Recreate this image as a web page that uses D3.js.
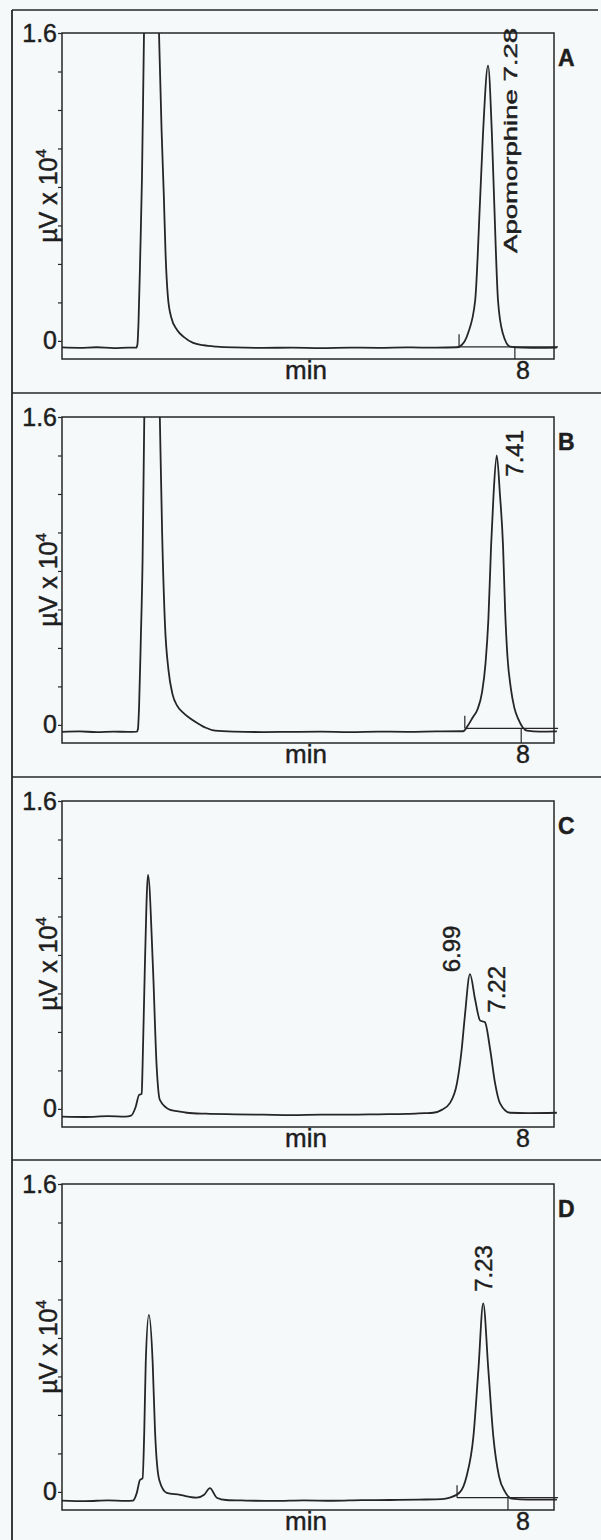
<!DOCTYPE html>
<html>
<head>
<meta charset="UTF-8">
<style>
  body { margin: 0; background: #f6f9fa; }
  svg { display: block; }
  text { font-family: "Liberation Sans", Arial, sans-serif; fill: #1e1e1e; stroke: #1e1e1e; stroke-width: 0.45px; }
</style>
</head>
<body>
<svg></svg>
<script src="https://d3js.org/d3.v7.min.js"></script>
<script>

let width = 601, height = 1540;

// ---- data (time in min, signal in µV x 10^4) ----
const panelLetters = ["A", "B", "C", "D"];

const traceA = [[0, -0.034], [0.3, -0.036], [0.6, -0.033], [0.9, -0.037], [1.15, -0.035], [1.29, -0.035],
  [1.31, -0.02], [1.33, 0.1], [1.36, 0.45], [1.39, 0.85], [1.425, 1.6], [1.47, 2.4], [1.55, 2.7], [1.62, 2.4],
  [1.686, 1.6], [1.73, 1.1], [1.77, 0.75], [1.8, 0.45], [1.84, 0.23], [1.9, 0.12], [2.0, 0.057], [2.12, 0.02],
  [2.28, -0.01], [2.45, -0.022], [2.69, -0.03], [3.0, -0.034], [3.5, -0.036], [4.0, -0.035], [4.5, -0.037],
  [5.0, -0.035], [5.5, -0.036], [6.0, -0.034], [6.5, -0.035], [6.86, -0.033], [6.95, -0.02], [7.056, 0.04],
  [7.18, 0.21], [7.265, 0.73], [7.317, 1.08], [7.404, 1.43], [7.47, 1.08], [7.51, 0.73], [7.577, 0.21],
  [7.66, 0.04], [7.79, -0.03], [8.0, -0.035], [8.3, -0.036], [8.6, -0.035]];

const traceB = [[0, -0.036], [0.3, -0.034], [0.6, -0.037], [0.9, -0.035], [1.15, -0.036], [1.3, -0.035],
  [1.32, -0.02], [1.34, 0.1], [1.37, 0.45], [1.4, 0.85], [1.43, 1.6], [1.48, 2.4], [1.56, 2.7], [1.64, 2.4],
  [1.7, 1.6], [1.74, 1.0], [1.79, 0.52], [1.85, 0.286], [1.92, 0.16], [2.0, 0.1], [2.1, 0.065], [2.2, 0.04],
  [2.35, 0.01], [2.5, -0.015], [2.66, -0.03], [3.0, -0.035], [3.5, -0.037], [4.0, -0.036], [4.5, -0.035],
  [5.0, -0.037], [5.5, -0.035], [6.0, -0.036], [6.5, -0.034], [6.97, -0.033], [7.06, 0.0], [7.14, 0.04],
  [7.22, 0.08], [7.3, 0.17], [7.36, 0.32], [7.41, 0.55], [7.456, 0.925], [7.5, 1.2], [7.555, 1.4], [7.61, 1.2],
  [7.665, 0.925], [7.7, 0.6], [7.74, 0.36], [7.8, 0.19], [7.86, 0.09], [7.93, 0.03], [8.08, -0.03],
  [8.3, -0.035], [8.6, -0.034]];

const traceC = [[0, -0.04], [0.4, -0.042], [0.8, -0.038], [1.1, -0.04], [1.2, -0.035], [1.28, 0.01],
  [1.34, 0.073], [1.385, 0.078], [1.4, 0.22], [1.44, 0.74], [1.495, 1.216], [1.58, 0.74], [1.645, 0.22],
  [1.7, 0.047], [1.88, -0.005], [2.0, -0.012], [2.17, -0.02], [2.5, -0.025], [3.0, -0.028], [3.5, -0.03],
  [4.0, -0.032], [4.5, -0.03], [5.0, -0.03], [5.5, -0.028], [6.0, -0.026], [6.3, -0.022], [6.45, -0.02],
  [6.6, -0.005], [6.74, 0.03], [6.865, 0.135], [6.946, 0.31], [7.0, 0.48], [7.09, 0.7], [7.18, 0.567],
  [7.265, 0.46], [7.35, 0.45], [7.44, 0.31], [7.525, 0.135], [7.61, 0.03], [7.785, -0.02], [8.1, -0.022],
  [8.6, -0.02]];

const traceD = [[0, -0.045], [0.4, -0.048], [0.8, -0.044], [1.1, -0.047], [1.234, -0.045], [1.3, -0.005],
  [1.355, 0.062], [1.4, 0.07], [1.43, 0.32], [1.455, 0.67], [1.51, 0.92], [1.576, 0.67], [1.616, 0.32],
  [1.69, 0.062], [1.82, -0.005], [2.05, -0.015], [2.2, -0.025], [2.34, -0.03], [2.47, -0.015], [2.57, 0.02],
  [2.69, -0.03], [2.85, -0.042], [3.2, -0.045], [3.7, -0.047], [4.2, -0.044], [4.7, -0.046], [5.2, -0.043],
  [5.7, -0.042], [6.2, -0.04], [6.6, -0.038], [6.74, -0.03], [6.92, 0.0], [7.03, 0.08], [7.15, 0.29],
  [7.235, 0.63], [7.32, 0.98], [7.41, 0.63], [7.495, 0.29], [7.595, 0.08], [7.7, 0.0], [7.815, -0.035],
  [8.1, -0.04], [8.6, -0.04]];

const traces = [traceA, traceB, traceC, traceD];

// peak annotations: text, time of text baseline, signal where text starts
const labelsA = [["Apomorphine 7.28", 7.9, 0.457]];
const labelsB = [["7.41", 8.01, 1.29]];
const labelsC = [["6.99", 6.92, 0.71], ["7.22", 7.7, 0.5]];
const labelsD = [["7.23", 7.47, 1.04]];
const peakLabels = [labelsA, labelsB, labelsC, labelsD];

// integration marks: start, end, baseline level (null = none)
const integrations = [[6.9, 7.87, -0.031], [7.0, 7.98, -0.018], null, [6.865, 7.75, -0.03]];

const yTicks = [0, 0.2, 0.4, 0.6, 0.8, 1.0, 1.2, 1.4, 1.6];
const yTickLabels = ["0", "", "", "", "", "", "", "", "1.6"];
const xTicks = [8];
const xTickLabels = ["8"];

// ---- layout ----
let svg = d3.select("svg")
    .attr("width", width)
    .attr("height", height)
    .attr("viewBox", "0 0 " + width + " " + height);

svg.append("rect").attr("width", width).attr("height", height).attr("fill", "#f6f9fa");

const panelTops = [33, 417, 801, 1184];
const boxLeft = 62, boxRight = 554, boxH = 326;
const ink = "#262626";

let x = d3.scaleLinear().domain([0, 8.55]).range([boxLeft, boxRight]);

// outer frame
svg.append("line").attr("x1", 12).attr("x2", 12).attr("y1", 10).attr("y2", height)
    .attr("stroke", ink).attr("stroke-width", 1.8);
svg.append("line").attr("x1", 12).attr("x2", 598).attr("y1", 10).attr("y2", 10)
    .attr("stroke", ink).attr("stroke-width", 1.5);

panelTops.forEach((top, i) => {
    let y = d3.scaleLinear().domain([-0.094, 1.6]).range([top + boxH, top]);
    let g = svg.append("g");

    // separator above the panel
    if (i > 0) {
        g.append("line").attr("x1", 12).attr("x2", width).attr("y1", top - 24).attr("y2", top - 24)
            .attr("stroke", ink).attr("stroke-width", 1.5);
    }

    g.append("rect")
        .attr("x", boxLeft).attr("y", top)
        .attr("width", boxRight - boxLeft).attr("height", boxH)
        .attr("fill", "none").attr("stroke", ink).attr("stroke-width", 1.5);

    // y axis
    let yAxis = g.append("g")
        .attr("transform", "translate(" + boxLeft + ",0)")
        .call(d3.axisLeft(y).tickValues(yTicks).tickSize(4).tickPadding(1)
            .tickFormat((d, k) => yTickLabels[k]));
    yAxis.select(".domain").remove();
    yAxis.selectAll("line").attr("stroke", ink).attr("stroke-width", 1.2);
    yAxis.selectAll("text").attr("font-size", 25).attr("font-family", "Liberation Sans, Arial, sans-serif")
        .attr("fill", "#1e1e1e");

    // x axis (label only)
    let xAxis = g.append("g")
        .attr("transform", "translate(0," + (top + boxH) + ")")
        .call(d3.axisBottom(x).tickValues(xTicks).tickSize(0).tickPadding(2)
            .tickFormat((d, k) => xTickLabels[k]));
    xAxis.select(".domain").remove();
    xAxis.selectAll("text").attr("font-size", 25).attr("font-family", "Liberation Sans, Arial, sans-serif")
        .attr("fill", "#1e1e1e").attr("dy", "0.71em");

    g.append("text")
        .attr("x", 306)
        .attr("y", top + 346)
        .attr("text-anchor", "middle")
        .attr("font-size", 26)
        .text("min");

    // y title
    let yt = g.append("text")
        .attr("transform", "translate(" + 57 + "," + (top + boxH / 2) + ") rotate(-90)")
        .attr("text-anchor", "middle")
        .attr("font-size", 25);
    yt.append("tspan").text("µV x 10");
    yt.append("tspan").attr("font-size", 15).attr("dy", -11).text("4");

    // panel letter
    g.append("text")
        .attr("x", 558).attr("y", top + 33)
        .attr("font-size", 23).attr("font-weight", "bold")
        .text(panelLetters[i]);

    // trace
    let clipId = "clip" + i;
    svg.append("clipPath").attr("id", clipId)
        .append("rect").attr("x", boxLeft).attr("y", top).attr("width", boxRight - boxLeft + 5).attr("height", boxH);

    let line = d3.line().x(d => x(d[0])).y(d => y(d[1])).curve(d3.curveMonotoneX);
    g.append("path")
        .datum(traces[i])
        .attr("clip-path", "url(#" + clipId + ")")
        .attr("fill", "none")
        .attr("stroke", ink)
        .attr("stroke-width", 1.8)
        .attr("d", line);

    // integration marks
    let intg = integrations[i];
    if (intg) {
        g.append("line")
            .attr("x1", x(intg[0])).attr("x2", x(8.62))
            .attr("y1", y(intg[2])).attr("y2", y(intg[2]))
            .attr("stroke", ink).attr("stroke-width", 1.2);
        g.append("line")
            .attr("x1", x(intg[0])).attr("x2", x(intg[0]))
            .attr("y1", y(intg[2])).attr("y2", y(intg[2] + 0.065))
            .attr("stroke", ink).attr("stroke-width", 1.2);
        g.append("line")
            .attr("x1", x(intg[1])).attr("x2", x(intg[1]))
            .attr("y1", y(intg[2])).attr("y2", top + boxH)
            .attr("stroke", ink).attr("stroke-width", 1.2);
    }

    // peak labels
    peakLabels[i].forEach(l => {
        let t = g.append("text")
            .attr("transform", "translate(" + x(l[1]) + "," + y(l[2]) + ") rotate(-90)")
            .attr("font-size", l[0].length > 6 ? 18 : 24)
            .text(l[0]);
        if (l[0].length > 6) t.attr("textLength", 225).attr("lengthAdjust", "spacingAndGlyphs");
    });
});

</script>
</body>
</html>
